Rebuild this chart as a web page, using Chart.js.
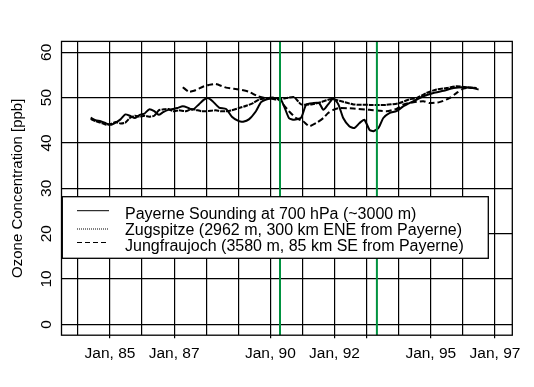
<!DOCTYPE html>
<html><head><meta charset="utf-8">
<script src="https://cdn.jsdelivr.net/npm/chart.js@4"></script>
<style>html,body{margin:0;padding:0;background:#fff}canvas{display:block}</style>
</head><body>
<canvas id="c" width="534" height="387"></canvas>
<script>
// ---- data (years as decimal, e.g. 85.5 = mid 1985; ozone in ppb) ----
const payerneYears = [84.40,84.55,84.71,84.88,85.02,85.18,85.33,85.48,85.62,85.78,85.93,86.08,86.22,86.38,86.52,86.66,86.82,86.97,87.10,87.27,87.42,87.57,87.77,87.92,88.05,88.20,88.40,88.62,88.80,89.02,89.15,89.33,89.55,89.71,89.87,90.05,90.20,90.33,90.45,90.58,90.74,90.96,91.12,91.34,91.52,91.65,91.80,91.96,92.12,92.27,92.46,92.62,92.78,92.93,93.09,93.21,93.37,93.52,93.71,93.93,94.15,94.46,94.77,95.08,95.40,95.71,96.02,96.30,96.49];
const payerneOzone = [45.6,45.0,44.8,44.3,44.0,44.5,45.2,46.3,46.0,45.5,46.2,46.5,47.4,47.0,46.2,46.8,47.3,47.5,47.7,48.1,47.8,47.3,48.5,49.5,49.9,49.2,47.8,47.5,45.8,44.8,44.7,45.2,47.0,49.0,49.6,49.8,49.9,49.5,47.7,45.5,45.1,45.6,48.5,48.8,48.8,47.3,48.5,49.8,48.5,45.5,43.7,43.3,44.4,45.1,42.9,42.6,43.3,45.5,46.6,47.0,48.1,49.2,50.3,51.0,51.5,52.1,52.3,52.1,51.8];

const zugspitzeYears = [84.40,84.55,84.71,84.88,85.02,85.18,85.33,85.48,85.62,85.78,85.93,86.08,86.22,86.38,86.52,86.66,86.82,86.97,87.15,87.36,87.55,87.68,87.85,87.99,88.15,88.30,88.45,88.62,88.80,89.02,89.25,89.46,89.65,89.96,90.15,90.33,90.50,90.74,90.96,91.27,91.58,91.90,92.21,92.59,93.09,93.62,94.02,94.33,94.55,94.86,95.18,95.49,95.80,96.12,96.43];
const zugspitzeOzone = [45.3,44.8,44.5,44.0,44.2,44.6,44.3,44.5,45.5,46.0,45.8,46.0,45.8,46.0,47.2,47.4,47.5,47.0,47.2,47.0,47.5,47.3,47.0,47.0,47.1,47.2,47.0,47.0,47.2,47.7,48.2,48.8,49.6,49.9,49.6,49.7,49.9,50.1,48.5,48.5,49.0,49.7,49.2,48.5,48.4,48.4,48.8,49.6,49.9,51.0,51.8,52.1,52.5,52.3,52.1];

const jungfrauYears = [87.27,87.46,87.62,87.77,87.93,88.08,88.30,88.62,89.02,89.33,89.61,89.87,90.18,90.40,90.58,90.80,91.02,91.21,91.43,91.65,91.80,91.96,92.15,92.59,93.09,93.62,93.93,94.15,94.46,94.77,94.96,95.27,95.58,95.80,96.02,96.33];
const jungfrauOzone = [52.3,51.3,51.5,52.0,52.5,52.8,53.0,52.2,51.8,51.3,50.3,49.9,50.0,48.5,47.0,45.5,44.8,43.7,44.4,45.5,46.6,47.3,47.7,47.6,47.3,47.0,47.5,48.5,49.0,49.2,48.8,49.0,49.9,51.0,52.0,52.2];

const markerYears = [90.30, 93.32];

const gridYears = [84,85,86,87,88,89,90,91,92,93,94,95,96,97];
const tickYears = [85,87,90,92,93,95,97];
const tickLabels = ['Jan, 85','Jan, 87','Jan, 90','Jan, 92','','Jan, 95','Jan, 97'];
const yTicks = [0,10,20,30,40,50,60];

const legendLabels = [
  'Payerne Sounding at 700 hPa (~3000 m)',
  'Zugspitze (2962 m, 300 km ENE from Payerne)',
  'Jungfraujoch (3580 m, 85 km SE from Payerne)'
];

// ---- chart ----
const FONT = "'Liberation Sans', Arial, Helvetica, sans-serif";
const zip = (xs, ys) => xs.map((x, i) => ({x, y: ys[i]}));
const GREEN = '#00923f';

const framePlugin = {
  id: 'frameAndLegend',
  afterDraw(chart) {
    const {ctx, chartArea: a} = chart;
    ctx.save();
    ctx.strokeStyle = '#000';
    ctx.lineWidth = 1.3;
    ctx.strokeRect(a.left, a.top, a.right - a.left, a.bottom - a.top);
    // legend box
    const bx = 62.3, by = 196.7, bw = 426, bh = 61.6;
    ctx.fillStyle = '#fff';
    ctx.fillRect(bx, by, bw, bh);
    ctx.lineWidth = 1.3;
    ctx.strokeRect(bx, by, bw, bh);
    const lineY = [210.7, 229, 242.5];
    const textY = [219.3, 235, 250.7];
    const dashes = [[], [1, 1], [5, 3]];
    ctx.lineWidth = 1;
    for (let i = 0; i < 3; i++) {
      ctx.setLineDash(dashes[i]);
      ctx.beginPath();
      ctx.moveTo(77, lineY[i]);
      ctx.lineTo(109, lineY[i]);
      ctx.stroke();
    }
    ctx.setLineDash([]);
    ctx.fillStyle = '#000';
    ctx.font = '16px ' + FONT;
    ctx.textBaseline = 'alphabetic';
    ctx.textAlign = 'left';
    for (let i = 0; i < 3; i++) ctx.fillText(legendLabels[i], 125, textY[i]);
    ctx.restore();
  }
};

const lineBase = {borderColor: '#000', borderWidth: 2, pointRadius: 0, fill: false, tension: 0.2};

new Chart(document.getElementById('c'), {
  type: 'line',
  data: {
    datasets: [
      {data: [{x: markerYears[0], y: -2.4}, {x: markerYears[0], y: 62.4}], borderColor: GREEN, borderWidth: 2, pointRadius: 0, tension: 0},
      {data: [{x: markerYears[1], y: -2.4}, {x: markerYears[1], y: 62.4}], borderColor: GREEN, borderWidth: 2, pointRadius: 0, tension: 0},
      Object.assign({label: legendLabels[0], data: zip(payerneYears, payerneOzone)}, lineBase),
      Object.assign({label: legendLabels[1], data: zip(zugspitzeYears, zugspitzeOzone), borderDash: [5, 1]}, lineBase),
      Object.assign({label: legendLabels[2], data: zip(jungfrauYears, jungfrauOzone), borderDash: [6, 3]}, lineBase)
    ]
  },
  options: {
    responsive: false,
    animation: false,
    devicePixelRatio: 1,
    layout: {padding: {left: 0, top: 41.4, right: 21.7, bottom: 0}},
    plugins: {legend: {display: false}, tooltip: {enabled: false}},
    scales: {
      x: {
        type: 'linear', min: 83.49, max: 97.54,
        afterBuildTicks: s => { s.ticks = gridYears.map(v => ({value: v})); },
        afterFit: s => { s.height = 51.8; },
        ticks: {
          autoSkip: false, maxRotation: 0, minRotation: 0, padding: 6.5, color: '#000',
          font: {family: FONT, size: 15.5},
          callback: v => { const i = tickYears.indexOf(v); return i >= 0 ? tickLabels[i] : ''; }
        },
        grid: {
          color: '#000', lineWidth: 1.2, tickLength: 3,
          tickColor: c => (c.tick && tickYears.includes(c.tick.value)) ? '#000' : 'rgba(0,0,0,0)'
        },
        border: {display: false}
      },
      y: {
        type: 'linear', min: -2.4, max: 62.4,
        afterBuildTicks: s => { s.ticks = yTicks.map(v => ({value: v})); },
        afterFit: s => { s.width = 61.5; },
        ticks: {
          minRotation: 90, maxRotation: 90, crossAlign: 'center', padding: 6, color: '#000',
          font: {family: FONT, size: 15.5}, callback: v => String(v)
        },
        grid: {color: '#000', lineWidth: 1.2, drawTicks: false},
        border: {display: false},
        title: {display: true, text: 'Ozone Concentration [ppb]', color: '#000',
                font: {family: FONT, size: 15}, padding: {top: 9, bottom: 0}}
      }
    }
  },
  plugins: [framePlugin]
});
</script>
</body></html>
